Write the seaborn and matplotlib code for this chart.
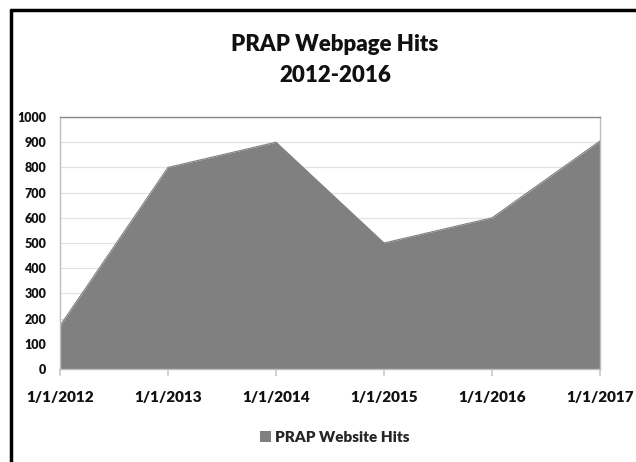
import matplotlib
matplotlib.use("Agg")
import matplotlib.pyplot as plt
import seaborn as sns
import pandas as pd
from matplotlib.lines import Line2D
from matplotlib.patches import Patch

dates = ["1/1/2012", "1/1/2013", "1/1/2014", "1/1/2015", "1/1/2016", "1/1/2017"]
hits = [172, 800, 900, 500, 600, 905]
series_name = "PRAP Website Hits"
title = "PRAP Webpage Hits\n2012-2016"
y_ticks = list(range(0, 1001, 100))

sns.set_theme(style="white")
plt.rcParams['font.family'] = ['Lato', 'DejaVu Sans']

df = pd.DataFrame({"pos": range(len(dates)), "hits": hits})

fig = plt.figure(figsize=(6.36, 4.62), dpi=100)
ax = fig.add_axes([60/636, 1-369/462, 540/636, 252/462])

area_color = "#808080"
sns.lineplot(data=df, x="pos", y="hits", ax=ax, color=area_color, linewidth=0.8)
ax.fill_between(df["pos"], df["hits"], color=area_color, linewidth=0, zorder=2)

ax.set_xlim(0, len(dates) - 1)
ax.set_ylim(0, 1000)
ax.set_yticks(y_ticks)
ax.set_yticklabels([str(v) for v in y_ticks], fontsize=9, fontweight="heavy", color="#111111")
ax.set_xticks(range(len(dates)))
ax.set_xticklabels(dates, fontsize=11, fontweight="heavy", color="#111111")
ax.set_xlabel("")
ax.set_ylabel("")
ax.grid(axis="y", color="#e3e3e3", linewidth=0.9, zorder=0)
ax.set_axisbelow(True)
for s in ax.spines.values():
    s.set_color("#bdbdbd")
    s.set_linewidth(1.0)
ax.spines["top"].set_color("#888888")
ax.tick_params(axis="x", length=5, color="#cccccc", pad=11, bottom=True)
ax.tick_params(axis="y", length=0, pad=10, left=False)

fig.text(335/636, 1-60/462, title, ha="center", va="center", fontsize=16,
         fontweight="heavy", color="#111111", linespacing=1.6)

handles = [Patch(facecolor=area_color, edgecolor="none", label=series_name)]
fig.legend(handles=handles, loc="center", bbox_to_anchor=(335/636, 1-437/462),
           frameon=False, prop={"weight": "heavy", "size": 11},
           handlelength=0.7, handleheight=0.7, handletextpad=0.3)

# chart border (top and left edges visible)
fig.add_artist(Line2D([11/636, 11/636], [0, 1-10/462], transform=fig.transFigure,
                      color="black", linewidth=2.5))
fig.add_artist(Line2D([11/636, 1], [1-10/462, 1-10/462], transform=fig.transFigure,
                      color="black", linewidth=2.5))

fig.savefig("out.png", dpi=100)
